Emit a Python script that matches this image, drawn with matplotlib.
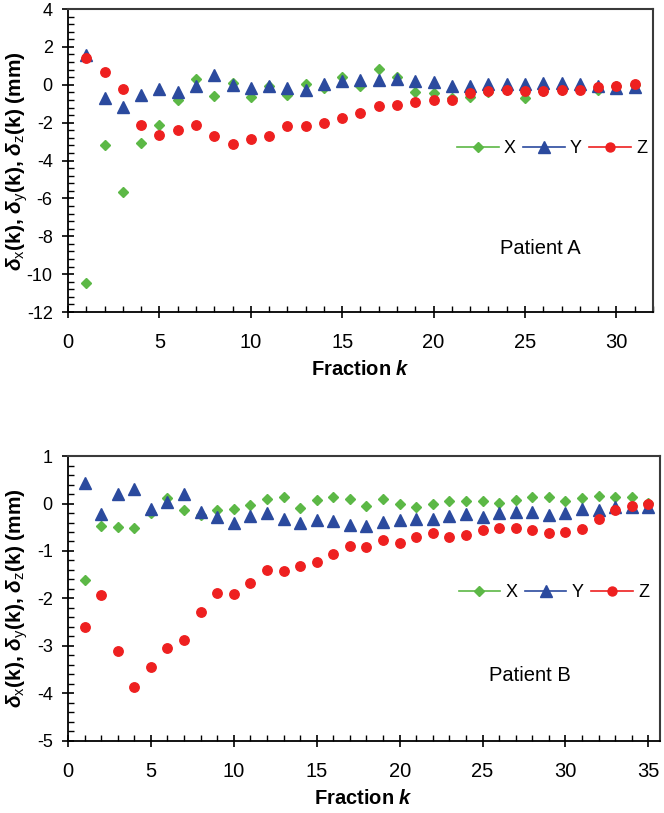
import matplotlib
matplotlib.use("Agg")
import matplotlib.pyplot as plt
from matplotlib.ticker import MultipleLocator

# ── Data ────────────────────────────────────────────────────
k_a = list(range(1, 32))
dx_a = [-10.45, -3.16, -5.65, -3.09, -2.13, -0.80, 0.32, -0.60, 0.10, -0.62,
        -0.05, -0.53, 0.05, -0.18, 0.40, -0.07, 0.85, 0.41, -0.39, -0.42,
        -0.70, -0.66, -0.40, -0.30, -0.72, -0.32, -0.28, -0.22, -0.30, -0.08,
        0.00]
dy_a = [1.55, -0.71, -1.15, -0.52, -0.21, -0.39, -0.07, 0.53, 0.00, -0.18,
        -0.04, -0.18, -0.30, 0.05, 0.21, 0.27, 0.23, 0.32, 0.18, 0.14,
        -0.04, -0.07, 0.05, 0.05, 0.05, 0.10, 0.10, 0.05, -0.04, -0.18,
        -0.12]
dz_a = [1.42, 0.67, -0.21, -2.11, -2.65, -2.38, -2.11, -2.72, -3.13, -2.86,
        -2.70, -2.18, -2.18, -2.04, -1.76, -1.51, -1.10, -1.05, -0.92, -0.83,
        -0.78, -0.44, -0.34, -0.30, -0.34, -0.34, -0.30, -0.25, -0.12, -0.04,
        0.05]

k_b = list(range(1, 36))
dx_b = [-1.61, -0.47, -0.49, -0.52, -0.21, 0.11, -0.13, -0.25, -0.14, -0.12,
        -0.04, 0.10, 0.13, -0.09, 0.07, 0.14, 0.09, -0.05, 0.09, -0.01,
        -0.07, 0.00, 0.06, 0.05, 0.06, 0.01, 0.07, 0.13, 0.13, 0.06,
        0.11, 0.16, 0.14, 0.13, 0.02]
dy_b = [0.43, -0.23, 0.19, 0.30, -0.11, 0.04, 0.20, -0.18, -0.28, -0.41,
        -0.27, -0.19, -0.33, -0.41, -0.35, -0.36, -0.46, -0.48, -0.39, -0.34,
        -0.32, -0.32, -0.26, -0.23, -0.29, -0.21, -0.18, -0.18, -0.25, -0.20,
        -0.11, -0.13, -0.07, -0.08, -0.08]
dz_b = [-2.59, -1.93, -3.10, -3.87, -3.44, -3.05, -2.88, -2.29, -1.89, -1.91,
        -1.68, -1.39, -1.42, -1.31, -1.23, -1.07, -0.89, -0.91, -0.76, -0.83,
        -0.70, -0.62, -0.70, -0.67, -0.56, -0.51, -0.51, -0.56, -0.62, -0.60,
        -0.54, -0.33, -0.14, -0.05, 0.00]

series_labels = ["X", "Y", "Z"]

# ── Style ───────────────────────────────────────────────────
plt.rcParams["font.family"] = ["Liberation Sans", "DejaVu Sans"]
plt.rcParams["axes.unicode_minus"] = False
plt.rcParams["mathtext.fontset"] = "custom"
plt.rcParams["mathtext.rm"] = "Liberation Sans"
plt.rcParams["mathtext.bf"] = "Liberation Sans:bold"
plt.rcParams["mathtext.bfit"] = "Liberation Sans:italic:bold"
plt.rcParams["mathtext.it"] = "Liberation Sans:italic"

GREEN = "#5cb846"
BLUE = "#2b4a9e"
RED = "#ee2020"

YLABEL = (r"$\mathbfit{\delta}_{\mathrm{x}}$(k), $\mathbfit{\delta}_{\mathrm{y}}$(k), "
          r"$\mathbfit{\delta}_{\mathrm{z}}$(k) (mm)")
XLABEL = r"Fraction $\mathbfit{k}$"


def draw_panel(ax, k, dx, dy, dz, xlim, ylim, ymaj, ymin, legend_xy, name, name_xy,
               ylab_x):
    styles = [(dx, "D", 5.2, GREEN), (dy, "^", 8.5, BLUE), (dz, "o", 6.8, RED)]
    for (vals, mk, ms, col), lab in zip(styles, series_labels):
        ax.plot(k, vals, linestyle="none", marker=mk, markersize=ms, color=col,
                markeredgecolor=col, label=lab)
    ax.set_xlim(*xlim)
    ax.set_ylim(*ylim)
    ax.xaxis.set_major_locator(MultipleLocator(5))
    ax.xaxis.set_minor_locator(MultipleLocator(1))
    ax.yaxis.set_major_locator(MultipleLocator(ymaj))
    ax.yaxis.set_minor_locator(MultipleLocator(ymin))
    ax.tick_params(which="major", direction="inout", length=8, width=1.2)
    ax.tick_params(axis="x", which="major", labelsize=14.5, pad=11)
    ax.tick_params(axis="y", which="major", labelsize=13, pad=7)
    ax.tick_params(which="minor", direction="in", length=4, width=1.0)
    ax.tick_params(top=False, right=False, which="both")
    for side in ("left", "bottom"):
        ax.spines[side].set_color("black")
        ax.spines[side].set_linewidth(1.3)
    for side in ("top", "right"):
        ax.spines[side].set_color("#3a3a3a")
        ax.spines[side].set_linewidth(1.5)

    # legend entries show a line through the marker
    handles = []
    for (vals, mk, ms, col), lab in zip(styles, series_labels):
        h, = ax.plot([], [], linestyle="-", linewidth=1.2, marker=mk,
                     markersize=ms * 0.95, color=col, label=lab)
        handles.append(h)
    ax.legend(handles=handles, loc="center left", bbox_to_anchor=legend_xy,
              ncol=3, frameon=False, fontsize=13, handlelength=2.3,
              handletextpad=0.3, columnspacing=0.4, borderpad=0, borderaxespad=0)

    ax.text(name_xy[0], name_xy[1], name, transform=ax.transAxes, fontsize=14.5,
            ha="center", va="center")
    ax.set_ylabel(YLABEL, fontsize=15, fontweight="bold", va="center")
    ax.yaxis.set_label_coords(ylab_x, 0.5)
    ax.set_xlabel(XLABEL, fontsize=14.5, fontweight="bold", labelpad=6)


fig = plt.figure(figsize=(6.64, 8.13), dpi=100)
ax_a = fig.add_axes([0.1024, 0.6162, 0.881, 0.3727])
ax_b = fig.add_axes([0.1024, 0.0886, 0.8916, 0.3505])

draw_panel(ax_a, k_a, dx_a, dy_a, dz_a, (0, 32), (-12, 4), 2, 0.4,
           (0.665, 0.54), "Patient A", (0.807, 0.211), -0.087)
draw_panel(ax_b, k_b, dx_b, dy_b, dz_b, (0, 35.7), (-5, 1), 1, 0.2,
           (0.66, 0.52), "Patient B", (0.78, 0.228), -0.086)

fig.savefig("out.png", dpi=100)
